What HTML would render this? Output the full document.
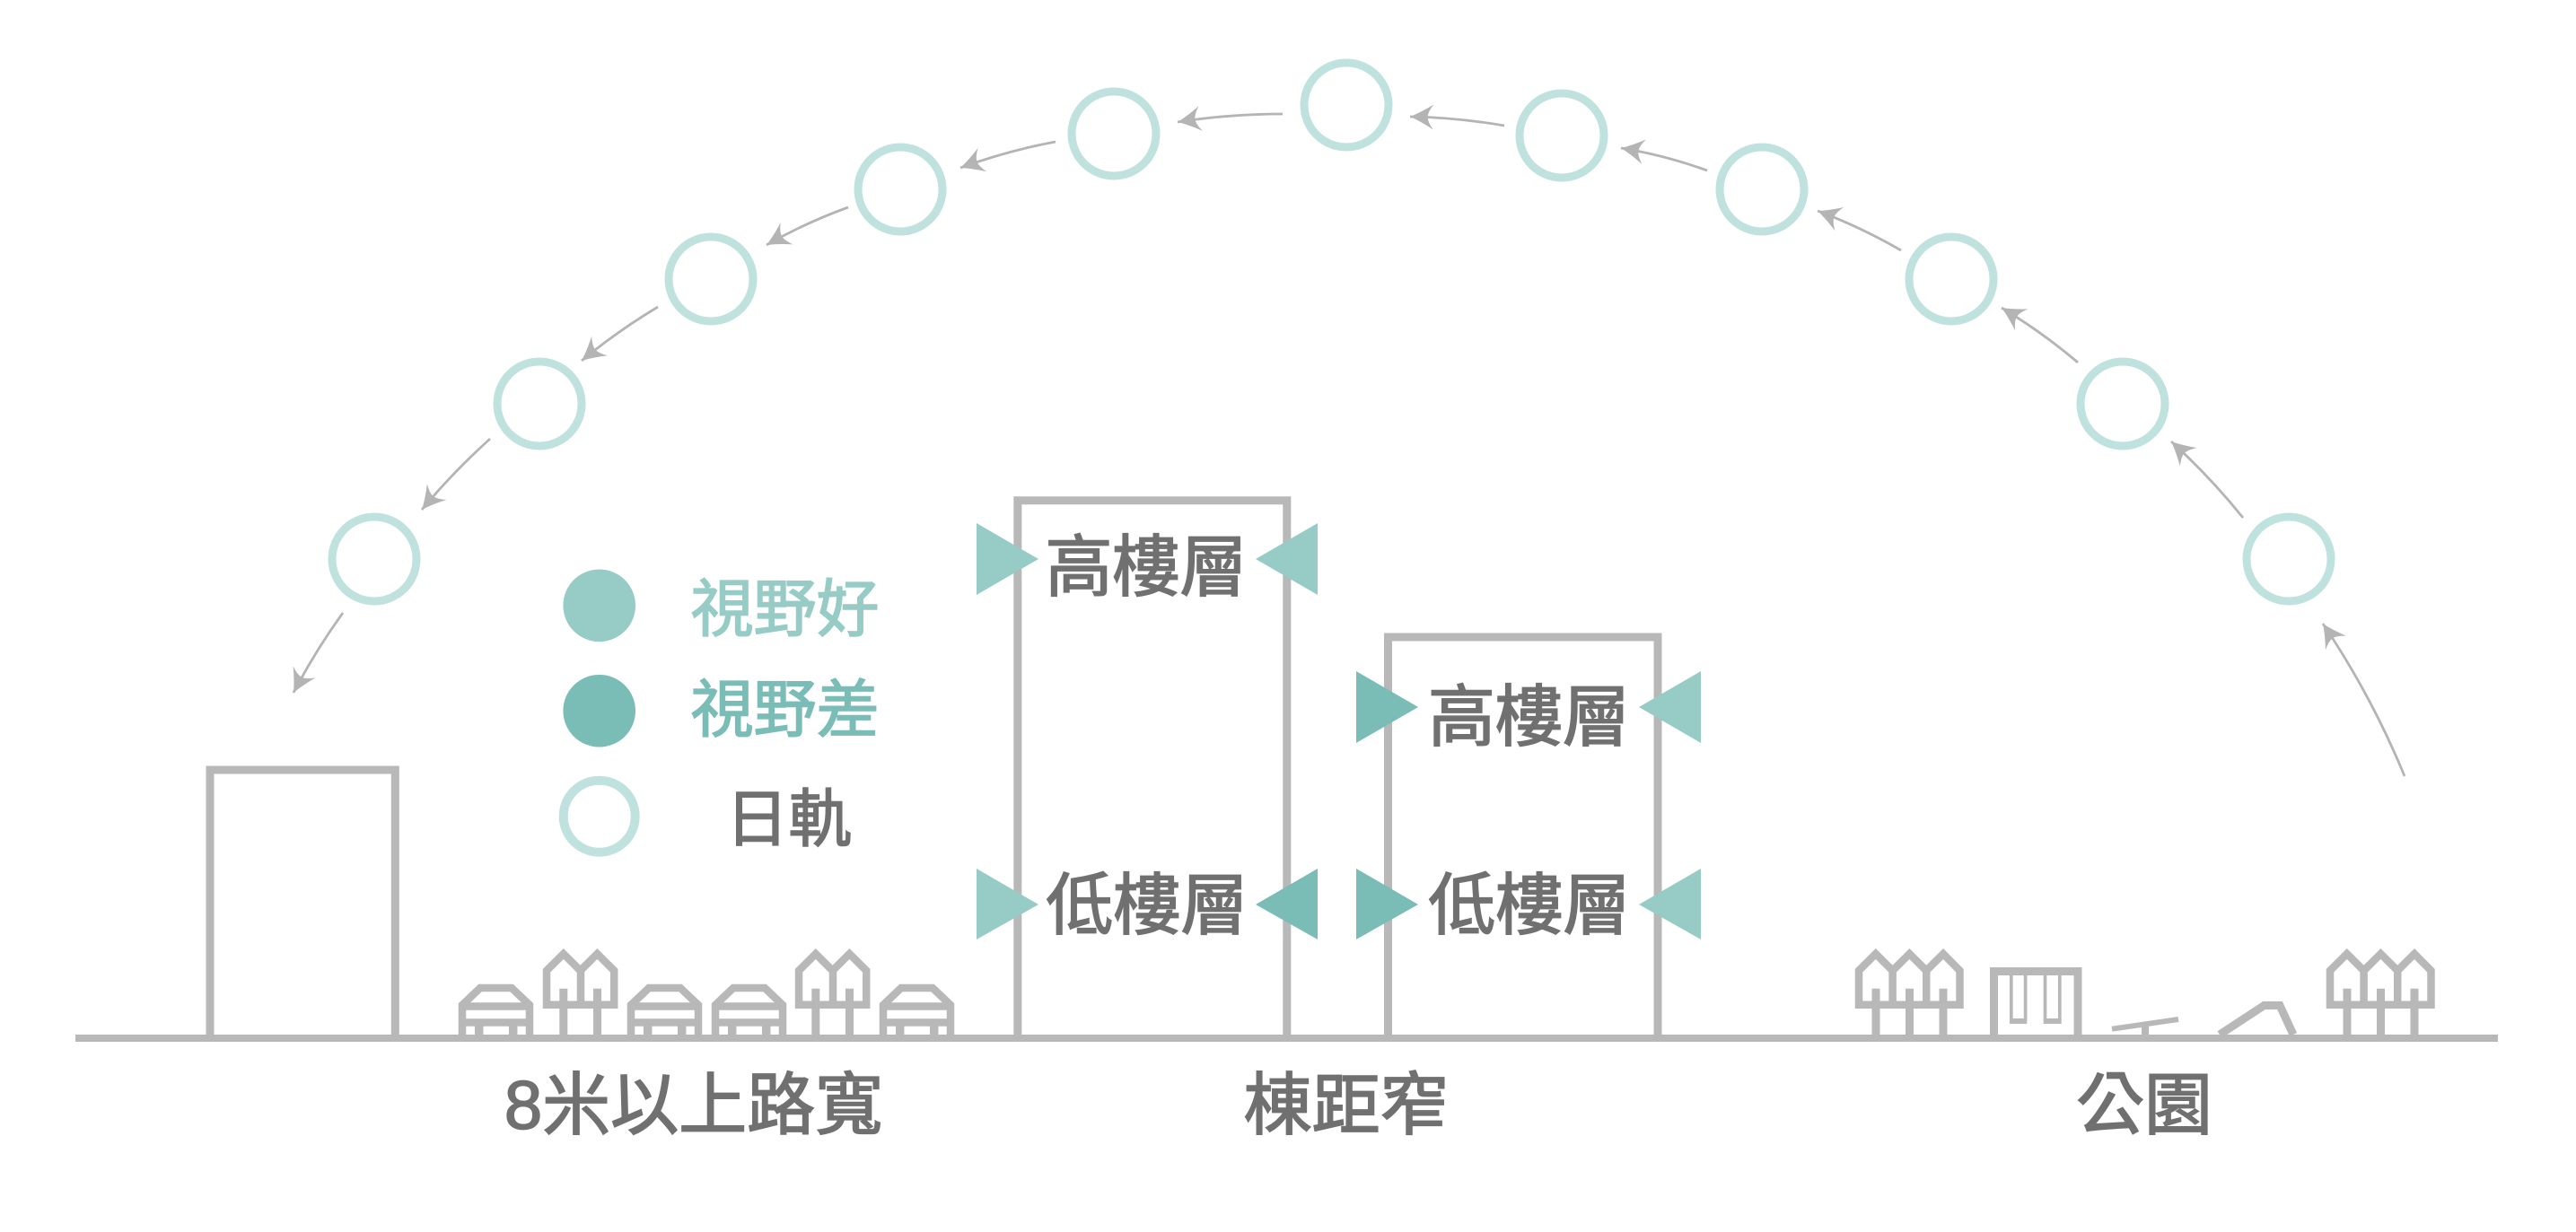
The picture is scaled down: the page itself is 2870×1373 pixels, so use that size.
<!DOCTYPE html>
<html><head><meta charset="utf-8"><style>
html,body{margin:0;padding:0;background:#fff;}
svg{display:block;}
text{font-family:"Liberation Sans","Noto Sans CJK TC","Noto Sans CJK SC",sans-serif;}
</style></head><body>
<svg width="2870" height="1373" viewBox="0 0 2870 1373" xmlns="http://www.w3.org/2000/svg">
<defs>
<marker id="ah" markerUnits="userSpaceOnUse" markerWidth="34" markerHeight="32" viewBox="-30 -16 34 32" refX="0" refY="0" orient="auto">
<path d="M0,0 Q-12,-5 -26,-14 Q-20,-6 -19.5,0 Q-20,6 -26,14 Q-12,5 0,0Z" fill="#b4b4b4"/>
</marker>
<g id="car" fill="none" stroke="#b8b8b8" stroke-width="8.5" stroke-linejoin="miter">
<path d="M4,0 V-33 L24,-52 H59 L79,-33 V0"/>
<path d="M4,-31.5 H79"/>
<path d="M4,-13.5 H79"/>
<path d="M22.7,-13.5 V0 M60.7,-13.5 V0" stroke-width="9.5"/>
</g>
<g id="tree2" fill="none" stroke="#b8b8b8" stroke-width="8.5" stroke-linejoin="miter">
<path d="M4,-33.3 V-71.3 L22.8,-90 L41.6,-71.3 L60.4,-90 L79.2,-71.3 V-33.3 Z"/>
<path d="M42,-71.3 V-33.3"/>
<path d="M22.8,-51.3 V0 M60.5,-51.3 V0" stroke-width="9"/>
</g>
<g id="tree3" fill="none" stroke="#b8b8b8" stroke-width="8.5" stroke-linejoin="miter">
<path d="M4,-33.3 V-71.3 L22.8,-90 L41.6,-71.3 L60.4,-90 L79.2,-71.3 L98,-90 L116.5,-71.3 V-33.3 Z"/>
<path d="M41.6,-71.3 V-33.3 M79.2,-71.3 V-33.3"/>
<path d="M23,-51.3 V0 M60.5,-51.3 V0 M98,-51.3 V0" stroke-width="9"/>
</g>
</defs>

<!-- sun circles -->
<g fill="none" stroke="#bfe2de" stroke-width="9">
<circle cx="417" cy="623" r="47"/>
<circle cx="601" cy="450" r="47"/>
<circle cx="792" cy="311" r="47"/>
<circle cx="1003" cy="211" r="47"/>
<circle cx="1241" cy="149" r="47"/>
<circle cx="1500" cy="117" r="47"/>
<circle cx="1740" cy="151" r="47"/>
<circle cx="1963" cy="211" r="47"/>
<circle cx="2174" cy="311" r="47"/>
<circle cx="2365" cy="450" r="47"/>
<circle cx="2550" cy="623" r="47"/>
</g>

<!-- arrows -->
<g fill="none" stroke="#b4b4b4" stroke-width="2.8" marker-end="url(#ah)">
<path d="M2679,865 Q2642,775 2588,695"/>
<path d="M2499,577 Q2462,531 2419,492"/>
<path d="M2315,404 Q2275,370 2230,343"/>
<path d="M2118,279 Q2073,253 2025,235"/>
<path d="M1902,190 Q1855,173 1806,165"/>
<path d="M1676,140 Q1624,131 1571,130"/>
<path d="M1429,127 Q1370,127 1312,136"/>
<path d="M1176,158 Q1122,168 1070,187"/>
<path d="M945,231 Q898,248 854,273"/>
<path d="M733,342 Q688,369 648,402"/>
<path d="M546,489 Q505,526 470,568"/>
<path d="M382,683 Q351,726 327,772"/>
</g>

<!-- buildings -->
<g fill="none" stroke="#b8b8b8" stroke-width="9" stroke-linejoin="miter">
<path d="M234,1157 V858 H440.3 V1157"/>
<path d="M1133.8,1157 V557.8 H1433.8 V1157"/>
<path d="M1546.5,1157 V710 H1847 V1157"/>
</g>

<!-- houses / trees left -->
<use href="#car" x="511" y="1153"/>
<use href="#tree2" x="605" y="1153"/>
<use href="#car" x="699" y="1153"/>
<use href="#car" x="793" y="1153"/>
<use href="#tree2" x="886" y="1153"/>
<use href="#car" x="980" y="1153"/>

<!-- park -->
<use href="#tree3" x="2067" y="1153"/>
<use href="#tree3" x="2592" y="1153"/>
<g fill="none" stroke="#b8b8b8" stroke-linejoin="miter">
<path d="M2221.5,1157 V1082.5 H2315 V1157" stroke-width="9"/>
<path d="M2240.8,1086 V1137 M2256.6,1086 V1137 M2278.5,1086 V1137 M2294.8,1086 V1137" stroke-width="3.7"/>
<path d="M2353,1146.7 L2427,1136" stroke-width="6"/>
<path d="M2390,1141 V1157" stroke-width="8"/>
<path d="M2473,1153 L2522.5,1120.5 H2540 L2555,1153" stroke-width="9"/>
</g>
<g fill="#b8b8b8">
<rect x="2239" y="1135" width="19.3" height="6"/>
<rect x="2276.7" y="1135" width="20" height="6"/>
</g>

<!-- ground -->
<rect x="84" y="1153" width="2699" height="8" fill="#b8b8b8"/>

<!-- triangles -->
<g>
<polygon points="1088,583 1088,663 1157,623" fill="#96ccc5"/>
<polygon points="1468,583 1468,663 1399,623" fill="#96ccc5"/>
<polygon points="1088,968 1088,1047 1157,1008" fill="#96ccc5"/>
<polygon points="1468,968 1468,1047 1399,1008" fill="#7abcb6"/>
<polygon points="1511,748 1511,828 1580,788" fill="#7abcb6"/>
<polygon points="1895,748 1895,828 1826,788" fill="#96ccc5"/>
<polygon points="1511,968 1511,1047 1580,1008" fill="#7abcb6"/>
<polygon points="1895,968 1895,1047 1826,1008" fill="#96ccc5"/>
</g>

<!-- legend -->
<circle cx="667.7" cy="674.8" r="40.3" fill="#96ccc5"/>
<circle cx="667.7" cy="792.2" r="40.3" fill="#7abcb6"/>
<circle cx="667.7" cy="909.7" r="40" fill="none" stroke="#bfe2de" stroke-width="10"/>
<text x="874.5" y="703" font-size="70" fill="#96ccc5" stroke="#96ccc5" stroke-width="1.6" text-anchor="middle">視野好</text>
<text x="874.5" y="815" font-size="70" fill="#7abcb6" stroke="#7abcb6" stroke-width="1.6" text-anchor="middle">視野差</text>
<text x="878.5" y="937" font-size="70" fill="#707070" stroke="#707070" stroke-width="1.6" text-anchor="middle">日軌</text>

<!-- building labels -->
<g font-size="75" fill="#707070" stroke="#707070" stroke-width="1.7" text-anchor="middle">
<text x="1277" y="658">高樓層</text>
<text x="1278" y="1035">低樓層</text>
<text x="1703.5" y="825">高樓層</text>
<text x="1704" y="1035">低樓層</text>
</g>

<!-- bottom labels -->
<g font-size="76" fill="#707070" stroke="#707070" stroke-width="1.7" text-anchor="middle">
<text x="773" y="1258">8米以上路寬</text>
<text x="1499.5" y="1258">棟距窄</text>
<text x="2389" y="1258">公園</text>
</g>
</svg>
</body></html>
